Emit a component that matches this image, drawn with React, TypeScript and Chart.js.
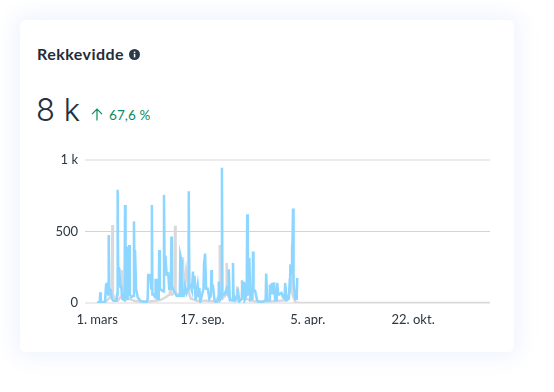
import React, { useEffect, useRef } from "react";
import { Chart, registerables } from "chart.js";

Chart.register(...registerables);

const tickLabels = ["1. mars", "17. sep.", "5. apr.", "22. okt."];
const tickDays = [0, 200, 400, 600];

const blueDays = [0,2.5,5,6,7,15,17,19,21,22,23,26,28,31,37,38,39,40,42,44,46,48,52,53,54,57,58,59,60,61,62,65,69,70,71,72,73,74,77,82,88,94,96,97,101,103,104,105,107,110,111,113,114,117,118,119,122,126,127,128,130,132,135,137,140,141,142,145,151,157,158,160,161,165,167,170,173,174,175,178,180,182,183,185,187,191,193,194,196,202,203,205,206,207,210,213,216,217,218,220,223,227,230,231,233,236,237,238,242,246,249,250,252,257,258,259,262,266,267,270,275,276,279,280,284,285,286,288,289,291,295,296,297,300,304,309,316,320,321,323,327,328,330,332,334,336,338,341,342,344,346,350,353,356,357,360,364,365,366,367,370,372,373,376,379,380];
const blueValues = [0,5,10,75,8,5,130,135,60,475,100,90,30,15,15,60,790,250,240,115,115,30,20,685,40,30,395,60,60,405,60,40,50,570,200,370,370,100,40,15,8,5,30,195,195,100,685,60,60,40,160,160,30,30,370,100,90,80,755,300,310,200,205,100,100,465,120,90,50,50,335,300,50,50,120,70,100,780,130,120,90,220,100,190,20,125,40,105,10,100,270,345,345,100,100,30,50,230,120,120,15,5,30,150,20,40,945,60,60,100,60,235,20,20,280,60,20,50,100,10,30,145,140,20,60,620,60,60,315,20,30,360,85,85,15,5,10,20,205,15,20,130,60,140,60,145,20,20,140,60,60,70,40,30,140,20,30,100,80,270,200,660,150,30,30,175];

const grayDays = [0,15,22,28,29,30,34,40,46,47,48,52,60,70,80,100,120,130,138,139,140,143,147,148,149,153,162,163,164,169,173,174,175,178,190,210,225,232,233,234,238,245,246,247,252,258,265,266,267,270,274,275,276,282,300,330,360,369,370,371,376,380,746];
const grayValues = [0,5,30,60,545,60,30,20,50,230,40,20,30,15,10,10,20,40,60,185,60,60,80,540,80,50,80,320,80,230,100,500,60,30,15,15,10,60,405,60,30,60,280,60,30,15,30,115,15,15,30,160,30,30,10,10,20,100,405,60,10,0,0];

const titleText = "Rekkevidde";
const bigText = "8 k";
const changeText = "67,6 %";

const blueColor = "#8dd6ff";
const grayColor = "#d9d9dd";
const fontFamily = "Lato, 'Open Sans', sans-serif";

export default function App() {
  const ref = useRef<HTMLCanvasElement | null>(null);
  useEffect(() => {
    document.body.style.margin = "0";
    document.body.style.background = "#fff";
    const chart = new Chart(ref.current!, {
      type: "line",
      data: {
        datasets: [
          {
            label: "Nå",
            data: blueDays.map((d, i) => ({ x: d, y: blueValues[i] })),
            borderColor: blueColor,
            borderWidth: 2.5,
            pointRadius: 0,
            tension: 0,
            order: 1,
          },
          {
            label: "Forrige",
            data: grayDays.map((d, i) => ({ x: d, y: grayValues[i] })),
            borderColor: grayColor,
            borderWidth: 2.5,
            pointRadius: 0,
            tension: 0,
            order: 2,
          },
        ],
      },
      options: {
        animation: false,
        responsive: false,
        maintainAspectRatio: false,
        layout: { padding: { top: 3, right: 8, left: 0, bottom: 0 } },
        plugins: { legend: { display: false }, tooltip: { enabled: false } },
        scales: {
          x: {
            type: "linear",
            min: -23,
            max: 746,
            grid: { display: false },
            border: { display: false },
            afterBuildTicks: (s: any) => {
              s.ticks = tickDays.map((value) => ({ value }));
            },
            afterFit: (s: any) => {
              s.height = 22;
            },
            ticks: {
              maxRotation: 0,
              autoSkip: false,
              color: "#2b3640",
              padding: 1,
              font: { size: 13, family: fontFamily },
              callback: (v: any) => {
                const i = tickDays.indexOf(Number(v));
                return i >= 0 ? tickLabels[i] : "";
              },
            },
          },
          y: {
            min: 0,
            max: 1000,
            afterFit: (s: any) => {
              s.width = 57;
            },
            grid: {
              drawTicks: false,
              color: (c: any) => (c.tick.value === 500 ? "#d4d4d8" : "#ececef"),
              lineWidth: (c: any) => (c.tick.value === 500 ? 1 : 2),
            },
            border: { display: false },
            ticks: {
              stepSize: 500,
              color: "#2b3640",
              padding: 7,
              font: { size: 13, family: fontFamily },
              callback: (v: any) => (Number(v) === 1000 ? "1 k" : String(v)),
            },
          },
        },
      },
    });
    return () => chart.destroy();
  }, []);

  return (
    <div style={{ position: "fixed", left: 0, top: 0, width: 554, height: 392, background: "#fff", overflow: "hidden", fontFamily }}>
      <div
        style={{
          position: "absolute",
          left: 20,
          top: 20,
          width: 494,
          height: 332,
          background: "#fff",
          borderRadius: 6,
          boxShadow: "0 0 20px 6px rgba(225,230,255,0.45)",
        }}
      />
      <div style={{ position: "absolute", left: 37, top: 44, fontSize: 16, fontWeight: 700, color: "#1f2d3a", lineHeight: "20px", letterSpacing: 0.45 }}>
        {titleText}
      </div>
      <svg style={{ position: "absolute", left: 129, top: 49 }} width="11" height="11" viewBox="0 0 11 11">
        <circle cx="5.5" cy="5.5" r="5.5" fill="#2b3a48" />
        <rect x="4.8" y="4.8" width="1.5" height="3.6" fill="#fff" />
        <rect x="4.8" y="2.6" width="1.5" height="1.4" fill="#fff" />
      </svg>
      <div style={{ position: "absolute", left: 36, top: 90, fontSize: 31, fontWeight: 300, fontFamily: "Inter, Lato, sans-serif", color: "#25313c", lineHeight: "40px" }}>
        {bigText}
      </div>
      <svg style={{ position: "absolute", left: 91, top: 108 }} width="12" height="13" viewBox="0 0 12 13">
        <path d="M6 12.5V1.2M1 6.2L6 1.2L11 6.2" fill="none" stroke="#0a8a62" strokeWidth="1.2" />
      </svg>
      <div style={{ position: "absolute", left: 109, top: 106, fontSize: 13.5, color: "#0a8a62", lineHeight: "18px", letterSpacing: 0.1 }}>
        {changeText}
      </div>
      <canvas ref={ref} width={470} height={180} style={{ position: "absolute", left: 28, top: 145, width: 470, height: 180 }} />
    </div>
  );
}
